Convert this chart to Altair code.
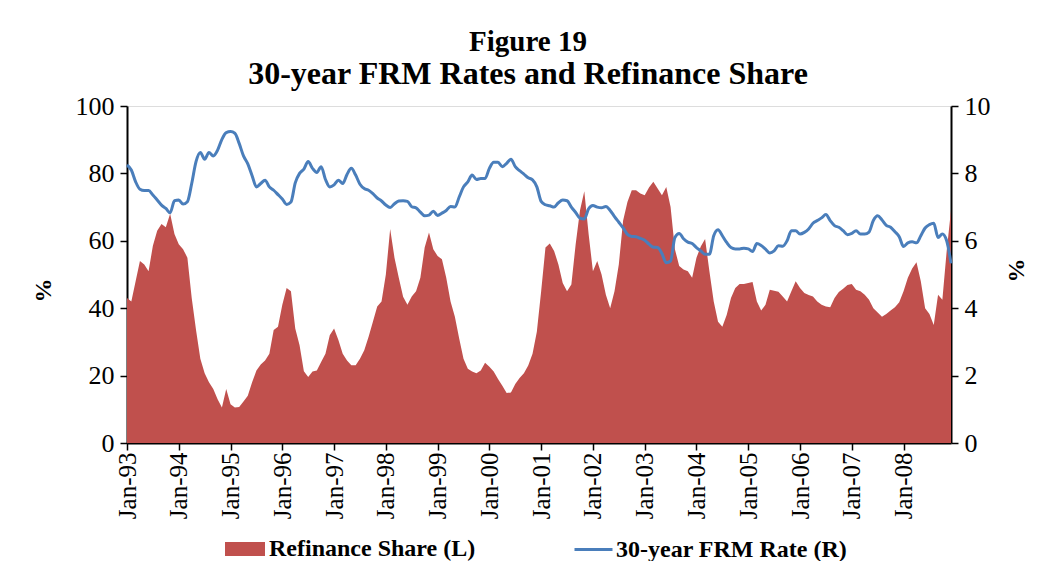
import altair as alt
import pandas as pd

# Monthly data, Jan-1993 .. Dec-2008
refi_share = [
    43, 42, 48, 54, 53, 51, 58.5, 63, 65, 64,
    68, 62, 59, 57.5, 55, 43, 33.5, 25, 20.7, 18,
    16, 13, 10.5, 16, 11.5, 10.5, 10.7, 12.3, 14, 18,
    21.5, 23.3, 24.5, 26.5, 33.5, 34.5, 41, 46, 45, 34,
    29, 21.3, 19.6, 21.2, 21.5, 24, 26.5, 32, 34, 30.6,
    26.5, 24.5, 23.1, 23.1, 25, 27.5, 31.5, 36, 40.5, 42,
    50, 63.5, 55, 49, 43.4, 41, 43.5, 45, 49, 58,
    62.5, 57.5, 55.5, 54.5, 49, 42, 37.5, 31, 25, 22,
    21.2, 20.7, 21.5, 23.8, 22.6, 21.2, 19, 17, 14.8, 15,
    17.5, 19.3, 20.7, 23, 26.5, 33, 45, 58, 59.2, 57,
    53, 47.5, 45, 47, 59, 69, 74.7, 62, 51, 54,
    50, 44, 40, 45, 53, 66, 71.5, 75, 75, 74,
    73.5, 75.8, 77.5, 75.5, 73.5, 76, 70, 57.5, 52.5, 51.5,
    51, 49, 55, 58.3, 60.5, 51, 42, 36, 34.5, 38,
    43, 46, 47.2, 47.2, 47.5, 47.8, 42, 39.3, 41, 45.5,
    45.2, 44.9, 43.5, 42, 45, 48, 46, 44.5, 43.9, 43.5,
    42, 41, 40.5, 40.3, 43, 44.8, 45.8, 46.9, 47.2, 45.5,
    45, 44, 42.5, 40, 38.7, 37.5, 38.3, 39.3, 40.3, 41.8,
    45, 49, 51.8, 53.6, 48, 40, 38.3, 35, 44, 42.5,
    57, 69,
]

frm_rate = [
    8.25, 8.1, 7.75, 7.53, 7.49, 7.49, 7.36, 7.21, 7.06, 6.96,
    6.83, 7.19, 7.21, 7.09, 7.16, 7.7, 8.35, 8.62, 8.42, 8.62,
    8.52, 8.69, 9.01, 9.21, 9.24, 9.19, 8.89, 8.52, 8.28, 7.93,
    7.6, 7.7, 7.8, 7.6, 7.5, 7.37, 7.24, 7.08, 7.15, 7.72,
    8.0, 8.13, 8.35, 8.15, 8.03, 8.2, 7.82, 7.6, 7.66, 7.8,
    7.7, 7.97, 8.15, 7.95, 7.68, 7.55, 7.5, 7.4, 7.27, 7.18,
    7.06, 6.99, 7.1, 7.18, 7.19, 7.17, 7.01, 6.98, 6.85, 6.74,
    6.76, 6.88, 6.75, 6.82, 6.9, 7.02, 7.0, 7.3, 7.6, 7.75,
    7.95, 7.82, 7.85, 7.85, 8.15, 8.33, 8.33, 8.2, 8.3, 8.42,
    8.2, 8.08, 7.98, 7.87, 7.81, 7.6, 7.17, 7.07, 7.04, 7.0,
    7.13, 7.21, 7.19, 7.0, 6.84, 6.67, 6.65, 6.95, 7.05, 7.0,
    6.98, 7.02, 6.9, 6.72, 6.55, 6.38, 6.19, 6.13, 6.12, 6.07,
    6.02, 5.9, 5.81, 5.8, 5.62, 5.35, 5.4, 6.1, 6.22, 6.06,
    5.96, 5.92, 5.8, 5.7, 5.6, 5.6, 6.15, 6.33, 6.15, 5.95,
    5.8, 5.76, 5.76, 5.78, 5.76, 5.68, 5.92, 5.86, 5.75, 5.64,
    5.7, 5.85, 5.84, 6.0, 6.3, 6.3, 6.2, 6.25, 6.35, 6.52,
    6.6, 6.68, 6.78, 6.6, 6.45, 6.4, 6.3, 6.18, 6.22, 6.3,
    6.2, 6.2, 6.26, 6.6, 6.74, 6.62, 6.46, 6.4, 6.27, 6.12,
    5.83, 5.94, 5.97, 5.94, 6.15, 6.38, 6.48, 6.52, 6.1, 6.2,
    6.0, 5.33,
]

x_labels = ["Jan-93", "Jan-94", "Jan-95", "Jan-96", "Jan-97", "Jan-98", "Jan-99",
            "Jan-00", "Jan-01", "Jan-02", "Jan-03", "Jan-04", "Jan-05", "Jan-06",
            "Jan-07", "Jan-08"]

left_ticks = [0, 20, 40, 60, 80, 100]
right_ticks = [0, 2, 4, 6, 8, 10]

series_names = ["Refinance Share (L)", "30-year FRM Rate (R)"]

n = len(refi_share)
df = pd.DataFrame({
    "m": list(range(n)),
    "refi": refi_share,
    "rate": frm_rate,
    "s1": series_names[0],
    "s2": series_names[1],
})

SERIF = "Liberation Serif"
RED = "#C0504D"
BLUE = "#4A7EBB"

label_expr = "[" + ",".join("'%s'" % l for l in x_labels) + "][round(datum.value/12)]"

x_enc = alt.X(
    "m:Q",
    scale=alt.Scale(domain=[0, n - 1], nice=False, zero=False),
    axis=alt.Axis(
        values=list(range(0, 12 * len(x_labels), 12)),
        labelExpr=label_expr,
        labelAngle=270,
        labelFont=SERIF,
        labelFontSize=25,
        labelColor="black",
        labelPadding=2,
        labelFlush=False,
        labelOverlap=False,
        tickColor="black",
        tickSize=7,
        tickWidth=1.5,
        domainColor="black",
        domainWidth=2,
        grid=False,
        title=None,
    ),
)

area = alt.Chart(df).mark_area(opacity=1).encode(
    x=x_enc,
    y=alt.Y(
        "refi:Q",
        scale=alt.Scale(domain=[0, 100], nice=False),
        axis=alt.Axis(
            orient="left",
            values=left_ticks,
            labelFont=SERIF,
            labelFontSize=26,
            labelColor="black",
            labelPadding=6,
            tickColor="black",
            tickSize=7,
            tickWidth=1.5,
            domainColor="black",
            domainWidth=2,
            grid=False,
            title="%",
            titleFont=SERIF,
            titleFontSize=24,
            titleFontWeight="bold",
            titleColor="black",
            titleAngle=270,
            titleX=-72,
            titleY=184,
        ),
    ),
    fill=alt.Fill(
        "s1:N",
        scale=alt.Scale(domain=[series_names[0]], range=[RED]),
        legend=alt.Legend(
            title=None,
            orient="none",
            legendX=98,
            legendY=423,
            symbolType="M-1,-0.35L1,-0.35L1,0.35L-1,0.35Z",
            symbolSize=1600,
            symbolStrokeWidth=0,
            symbolOpacity=1,
            labelFont=SERIF,
            labelFontSize=24,
            labelFontWeight="bold",
            labelColor="black",
            labelLimit=400,
            labelOffset=4,
            padding=0,
        ),
    ),
)

line = alt.Chart(df).mark_line(strokeWidth=3, interpolate="monotone").encode(
    x=x_enc,
    y=alt.Y(
        "rate:Q",
        scale=alt.Scale(domain=[0, 10], nice=False),
        axis=alt.Axis(
            orient="right",
            values=right_ticks,
            labelFont=SERIF,
            labelFontSize=26,
            labelColor="black",
            labelPadding=6,
            tickColor="black",
            tickSize=7,
            tickWidth=1.5,
            domainColor="black",
            domainWidth=2,
            grid=False,
            title="%",
            titleFont=SERIF,
            titleFontSize=24,
            titleFontWeight="bold",
            titleColor="black",
            titleAngle=270,
            titleX=77,
            titleY=164,
        ),
    ),
    stroke=alt.Stroke(
        "s2:N",
        scale=alt.Scale(domain=[series_names[1]], range=[BLUE]),
        legend=alt.Legend(
            title=None,
            orient="none",
            legendX=446,
            legendY=423,
            symbolType="stroke",
            symbolSize=1444,
            symbolStrokeWidth=3,
            labelFont=SERIF,
            labelFontSize=24,
            labelFontWeight="bold",
            labelColor="black",
            labelLimit=400,
            labelOffset=2,
            padding=0,
        ),
    ),
)

chart = (
    alt.layer(area, line)
    .resolve_scale(y="independent", fill="independent", stroke="independent")
    .properties(
        width=824,
        height=337,
        autosize=alt.AutoSizeParams(type="none"),
        padding={"left": 119, "top": 98, "right": 79, "bottom": 118},
        title=alt.TitleParams(
            text="Figure 19",
            subtitle="30-year FRM Rates and Refinance Share",
            font=SERIF,
            fontSize=29,
            fontWeight="bold",
            color="black",
            subtitleFont=SERIF,
            subtitleFontSize=32,
            subtitleFontWeight="bold",
            subtitleColor="black",
            subtitlePadding=2,
            anchor="middle",
            dx=-11,
            offset=3,
        ),
    )
    .configure_view(stroke=None)
    .configure(background="white")
)

chart.save("out.html", embed_options={"renderer": "svg", "actions": False})
